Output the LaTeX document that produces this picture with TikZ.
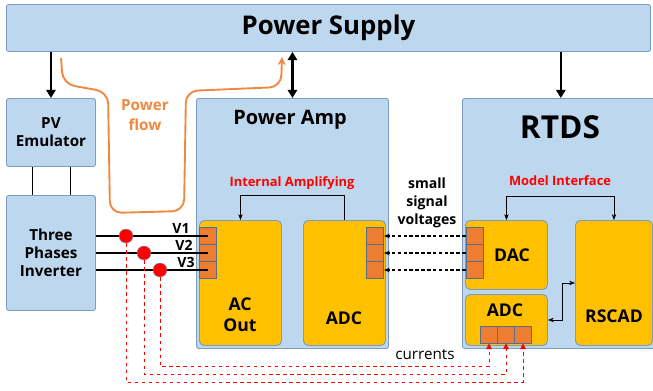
\documentclass[tikz,border=0pt]{standalone}
\usepackage{fontspec}
\setmainfont{Open Sans}
\usetikzlibrary{arrows.meta, positioning}
\definecolor{boxblue}{HTML}{BDD7EE}
\definecolor{edgeblue}{HTML}{7C9CC4}
\definecolor{gold}{HTML}{FFC000}
\definecolor{portorange}{HTML}{ED7D31}
\definecolor{flowcol}{HTML}{F0883E}
\tikzset{
    unit/.style={draw=edgeblue, fill=boxblue, line width=0.8pt, rounded corners=2pt, anchor=north west, inner sep=0pt, align=center, font=\bfseries\fontsize{13}{15.5}\selectfont},
    part/.style={draw=edgeblue, fill=gold, line width=0.8pt, rounded corners=4pt, anchor=north west, inner sep=0pt},
    port/.style={draw=edgeblue!70!black, fill=portorange, line width=0.6pt, minimum size=0.51cm, inner sep=0pt},
    probe/.style={circle, fill=red, draw=edgeblue, minimum size=0.42cm, inner sep=0pt},
    label/.style={align=center, font=\bfseries\fontsize{15}{18}\selectfont},
    tag/.style={text=red, font=\bfseries\fontsize{11}{13}\selectfont},
    vtag/.style={font=\bfseries\fontsize{12}{14}\selectfont},
    % thick black supply arrows
    feed/.style={-{Triangle[length=7pt, width=8pt]}, line width=2pt},
    signal/.style={dash pattern=on 3pt off 2pt, -{Stealth[length=5pt]}, line width=1pt},
    sense/.style={dashed, red, -{Triangle[length=5pt, width=5pt]}, line width=0.6pt},
    powerflow/.style={flowcol, line width=1.6pt, rounded corners=10pt, -{Stealth[length=7pt, width=7pt]}},
}

\begin{document}
\begin{tikzpicture}[x=0.03cm, y=-0.03cm]
        \useasboundingbox (0,0) rectangle (653,390);

        % blue units
        \node[unit, minimum width=19.32cm, minimum height=1.41cm, font=\bfseries\fontsize{22}{26}\selectfont] (supply) at (6,4) {Power Supply};
        \node[unit, minimum width=2.67cm, minimum height=2.04cm] (pv)  at (6,98)  {PV\\Emulator};
        \node[unit, minimum width=2.67cm, minimum height=3.45cm] (inv) at (6,195) {Three\\Phases\\Inverter};
        \node[unit, minimum width=5.76cm, minimum height=7.5cm]  (amp)  at (196,98) {};
        \node[unit, minimum width=5.9cm, minimum height=7.5cm]   (rtds) at (462,98) {};
        \node[font=\bfseries\fontsize{17}{20}\selectfont] (amptitle) at (290,120) {Power Amp};
        \node[font=\bfseries\fontsize{27}{30}\selectfont] (rtdstitle) at (560,127) {RTDS};

        % gold parts
        \node[part, minimum width=2.46cm, minimum height=3.75cm] (acout) at (199,220) {};
        \node[part, minimum width=2.46cm, minimum height=3.75cm] (aadc)  at (303,220) {};
        \node[part, minimum width=2.46cm, minimum height=2.07cm] (dac)   at (465,220) {};
        \node[part, minimum width=2.46cm, minimum height=1.53cm] (radc)  at (465,294) {};
        \node[part, minimum width=2.31cm, minimum height=3.75cm] (rscad) at (575,220) {};
        \node[label] (acoutlbl) at (240,315) {AC\\Out};
        \node[label] (aadclbl)  at (344,318) {ADC};
        \node[label] (daclbl)   at (512,255) {DAC};
        \node[label] (radclbl)  at (505,310) {ADC};
        \node[label] (rscadlbl) at (614,316) {RSCAD};

        % ports
        \node[port] (ac1) at (207.5,236) {};
        \node[port] (ac2) at (207.5,253) {};
        \node[port] (ac3) at (207.5,270) {};
        \node[port] (ad1) at (375,236) {};
        \node[port] (ad2) at (375,253) {};
        \node[port] (ad3) at (375,270) {};
        \node[port] (da1) at (474.5,236) {};
        \node[port] (da2) at (474.5,253) {};
        \node[port] (da3) at (474.5,270) {};
        \node[port] (rad1) at (489,334.5) {};
        \node[port] (rad2) at (506,334.5) {};
        \node[port] (rad3) at (523,334.5) {};

        \node[tag] (amptag) at (292,183) {Internal Amplifying};
        \node[tag] (rtdstag) at (560,181) {Model Interface};
        \node[align=center, font=\bfseries\fontsize{12}{15.4}\selectfont] (small) at (427,203) {small\\signal\\voltages};
        \node[font=\fontsize{13}{15}\selectfont] (currents) at (425,355) {currents};
        \node[align=center, text=flowcol, font=\bfseries\fontsize{13}{17}\selectfont] (flowlbl) at (145,115) {Power\\flow};

        % supply connections
        \draw[feed] (supply.south -| pv) -- (pv.north);
        \draw[feed, {Triangle[length=7pt, width=8pt]}-{Triangle[length=7pt, width=8pt]}] (supply.south -| amp) -- (amp.north);
        \draw[feed] (supply.south -| rtds) -- (rtds.north);
        \draw[line width=1pt] ([xshift=-0.56cm]pv.south) -- ([xshift=-0.56cm]inv.north);
        \draw[line width=1pt] ([xshift=0.58cm]pv.south) -- ([xshift=0.58cm]inv.north);

        \draw[powerflow] (61,58) -- (63,84) -- (108,92) -- (110,213) -- (184,211) -- (186,91) -- (281,87) -- (282,57);

        % phase lines and probes
        \draw[line width=1pt] (inv.east |- ac1) -- (ac1.center);
        \draw[line width=1pt] (inv.east |- ac2) -- (ac2.center);
        \draw[line width=1pt] (inv.east |- ac3) -- (ac3.center);
        \node[vtag] (v1) at (181,228) {V1};
        \node[vtag] (v2) at (184,245) {V2};
        \node[vtag] (v3) at (186,262) {V3};
        \node[probe] (dot1) at (126,236) {};
        \node[probe] (dot2) at (144,253) {};
        \node[probe] (dot3) at (160,270) {};

        \draw[sense] (dot3.south) -- ++(0,89) -| (rad1.south);
        \draw[sense] (dot2.south) -- ++(0,114) -| (rad2.south);
        \draw[sense] (dot1.south) -- ++(0,139) -| (rad3.south);

        % internal links
        \draw[-{Stealth[length=5pt]}] (aadc.north) -- ++(0,-25) -| (acout.north);
        \draw[{Stealth[length=5pt]}-{Stealth[length=5pt]}] (dac.north) -- ++(0,-24) -| (rscad.north);
        \draw[{Stealth[length=5pt]}-{Stealth[length=5pt]}] (radc.east) -- ++(14,0) |- (rscad.west);
        \draw[signal] (da1.west) -- (ad1.east);
        \draw[signal] (da2.west) -- (ad2.east);
        \draw[signal] (da3.west) -- (ad3.east);
\end{tikzpicture}
\end{document}
